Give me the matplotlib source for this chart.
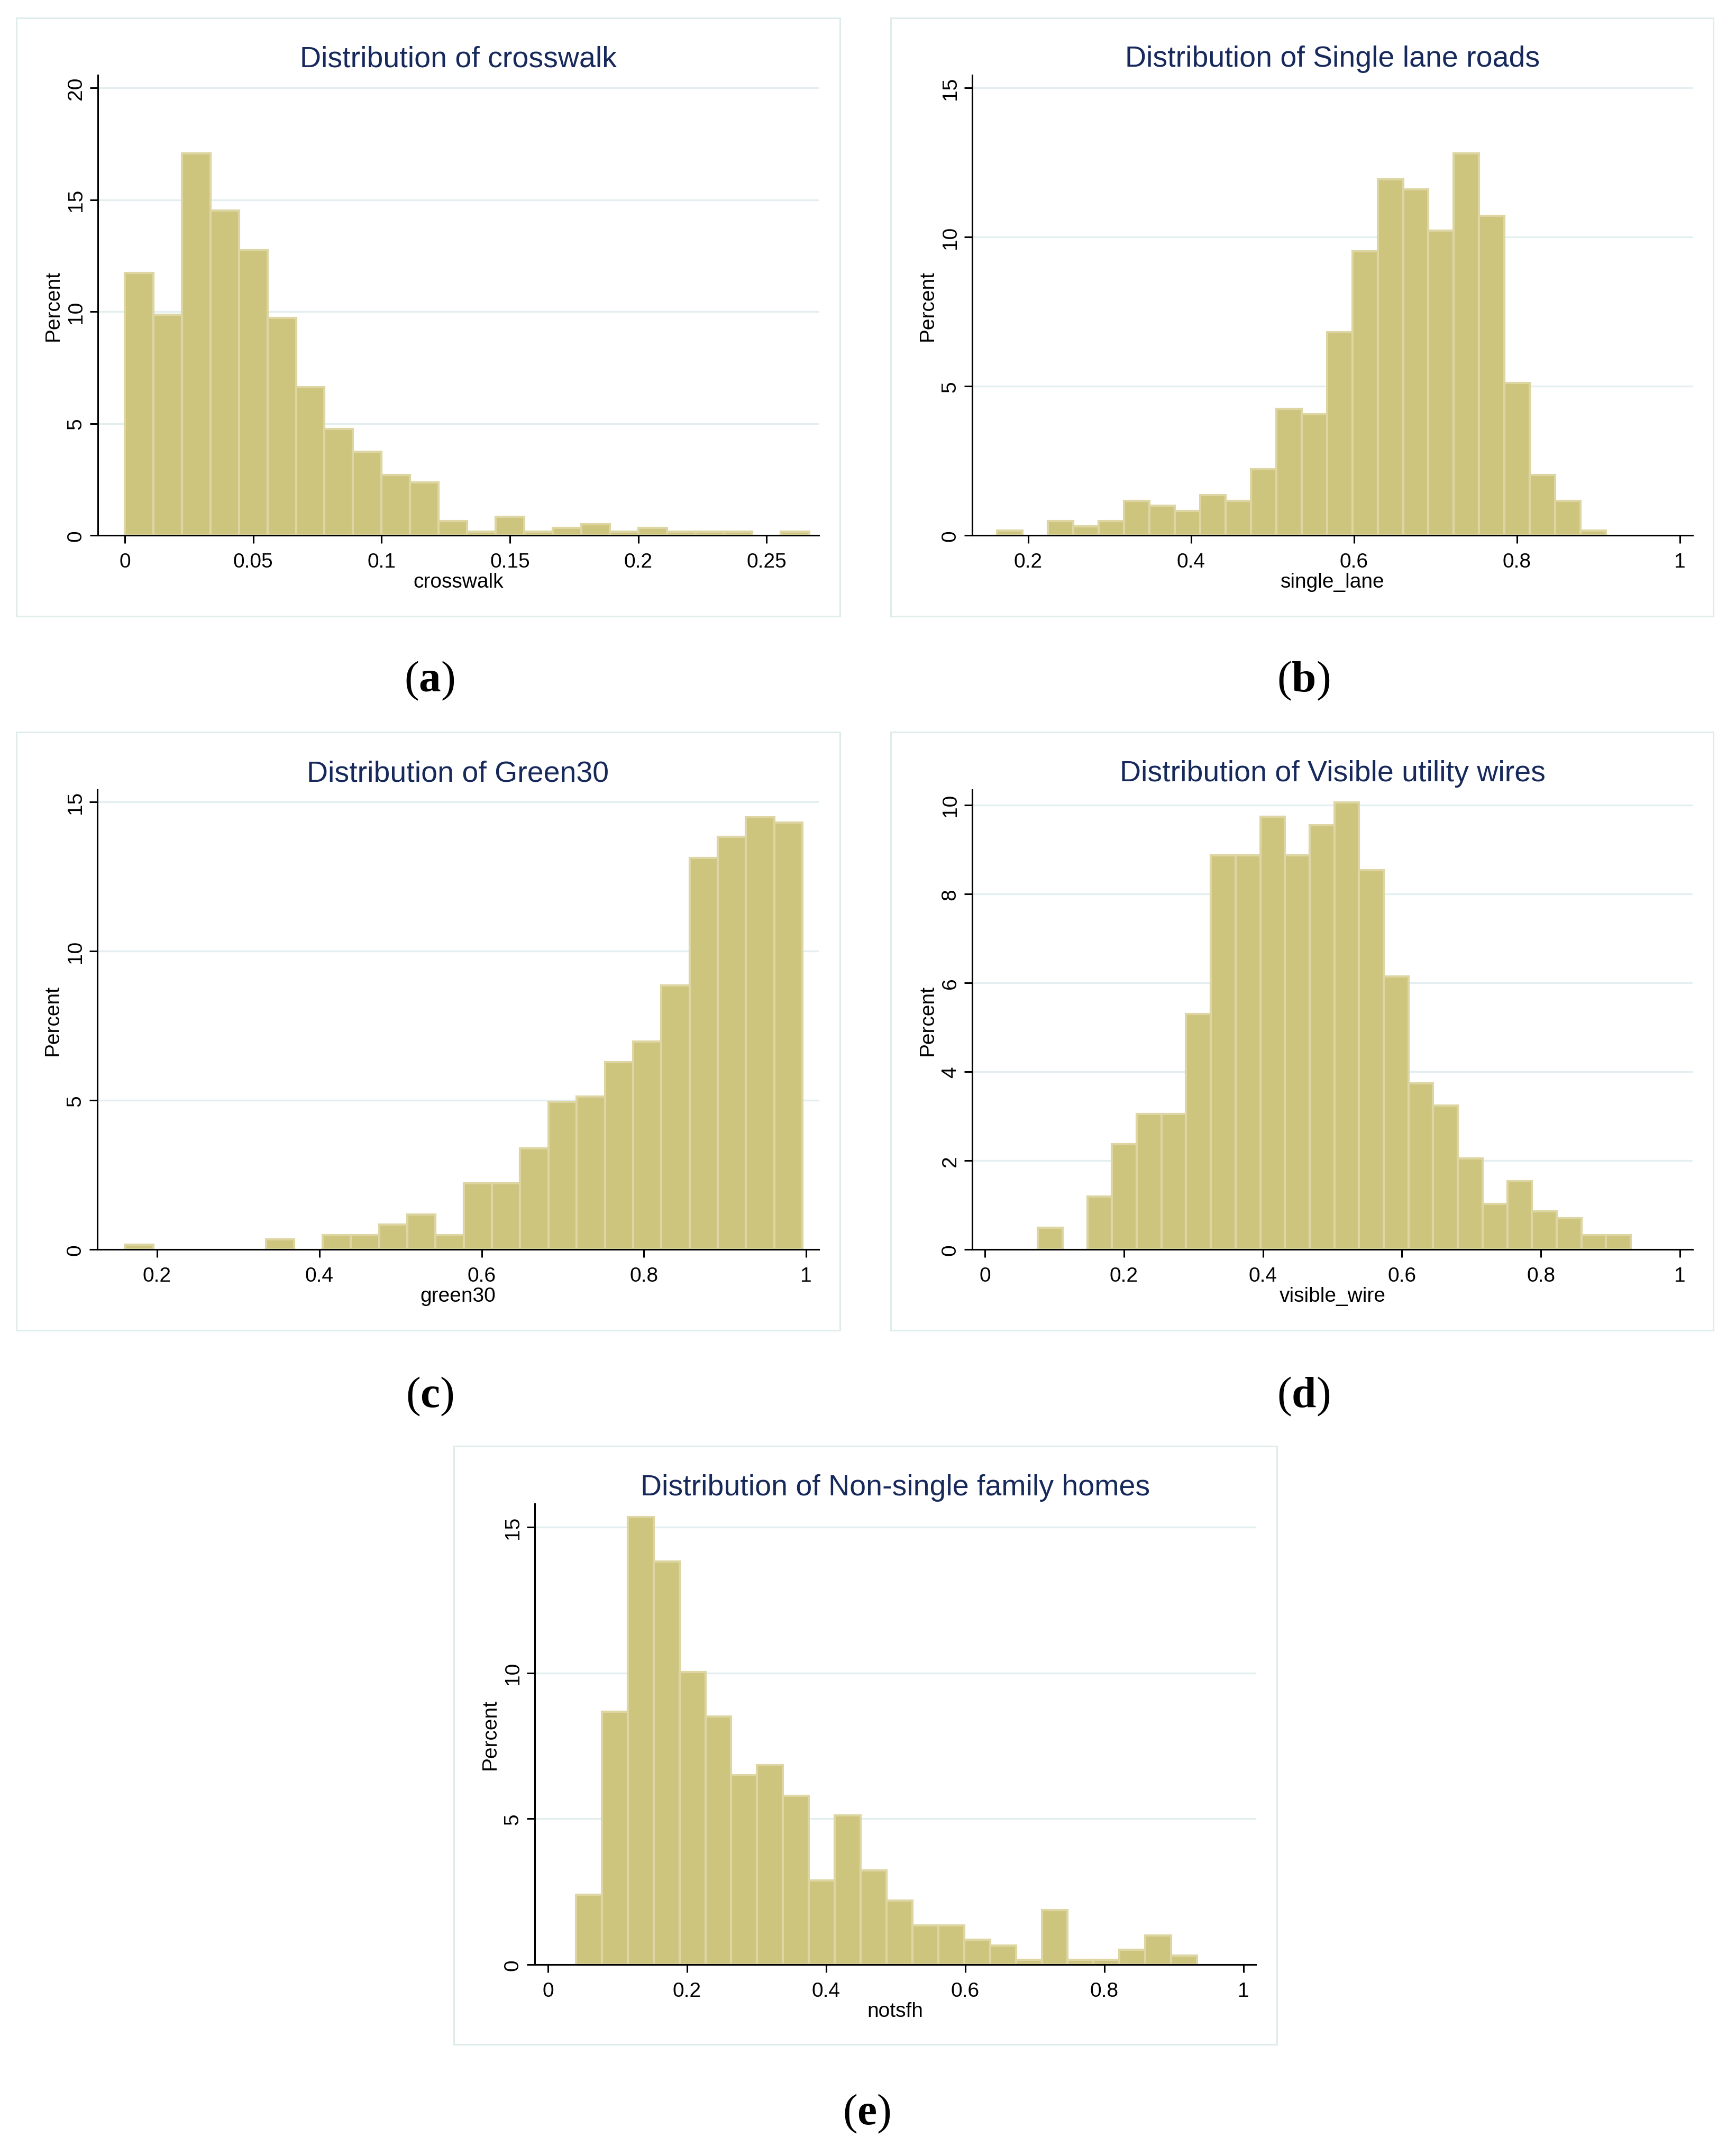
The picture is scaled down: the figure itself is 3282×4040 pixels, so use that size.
import matplotlib
matplotlib.use("Agg")
import matplotlib.pyplot as plt
import numpy as np
from matplotlib.patches import Rectangle

plt.rcParams['font.family'] = ['Liberation Sans', 'DejaVu Sans']
plt.rcParams['mathtext.fontset'] = 'custom'
plt.rcParams['mathtext.rm'] = 'Liberation Serif'
plt.rcParams['mathtext.bf'] = 'Liberation Serif:bold'

# ---------------- data (percent per bin) ----------------
crosswalk_start = 0.0
crosswalk_width = 0.01111
crosswalk_pct = [11.72, 9.87, 17.07, 14.51, 12.75, 9.71, 6.63, 4.76, 3.73, 2.70, 2.37, 0.63,
                 0.16, 0.82, 0.16, 0.33, 0.49, 0.16, 0.33, 0.16, 0.16, 0.16, 0.0, 0.16]

single_lane_start = 0.1617
single_lane_width = 0.03115
single_lane_pct = [0.16, 0.0, 0.48, 0.31, 0.48, 1.15, 1.00, 0.82, 1.35, 1.15, 2.21, 4.24,
                   4.06, 6.81, 9.52, 11.94, 11.60, 10.22, 12.80, 10.72, 5.11, 2.02, 1.15, 0.16]

green30_start = 0.1603
green30_width = 0.0348
green30_pct = [0.16, 0.0, 0.0, 0.0, 0.0, 0.34, 0.0, 0.47, 0.47, 0.83, 1.17, 0.47,
               2.21, 2.21, 3.38, 4.94, 5.12, 6.28, 6.97, 8.85, 13.13, 13.83, 14.49, 14.31]

visible_wire_start = 0.0763
visible_wire_width = 0.03554
visible_wire_pct = [0.49, 0.0, 1.19, 2.37, 3.05, 3.05, 5.29, 8.86, 8.86, 9.73, 8.86, 9.54,
                    10.06, 8.53, 6.14, 3.74, 3.24, 2.05, 1.02, 1.53, 0.86, 0.70, 0.32, 0.32]

notsfh_start = 0.0403
notsfh_width = 0.0372
notsfh_pct = [2.39, 8.67, 15.35, 13.82, 10.04, 8.51, 6.50, 6.83, 5.79, 2.88, 5.11, 3.22,
              2.19, 1.35, 1.35, 0.86, 0.65, 0.16, 1.86, 0.16, 0.16, 0.50, 1.00, 0.31]

titles = ["Distribution of crosswalk", "Distribution of Single lane roads",
          "Distribution of Green30", "Distribution of Visible utility wires",
          "Distribution of Non-single family homes"]
xlabels = ["crosswalk", "single_lane", "green30", "visible_wire", "notsfh"]
panel_letters = ["a", "b", "c", "d", "e"]

xticks_a = [0, 0.05, 0.1, 0.15, 0.2, 0.25]
xticklabels_a = ["0", "0.05", "0.1", "0.15", "0.2", "0.25"]
xticks_bc = [0.2, 0.4, 0.6, 0.8, 1.0]
xticklabels_bc = ["0.2", "0.4", "0.6", "0.8", "1"]
xticks_de = [0, 0.2, 0.4, 0.6, 0.8, 1.0]
xticklabels_de = ["0", "0.2", "0.4", "0.6", "0.8", "1"]
yticks_a = [0, 5, 10, 15, 20]
yticks_bce = [0, 5, 10, 15]
yticks_d = [0, 2, 4, 6, 8, 10]

# ---------------- layout ----------------
W, H, DPI = 3282, 4041, 100
fig = plt.figure(figsize=(W / DPI, H / DPI), dpi=DPI)
fig.patch.set_facecolor('white')

def frac_rect(l, t, r, b):
    return [l / W, 1 - b / H, (r - l) / W, (b - t) / H]

panels = [
    dict(start=crosswalk_start, width=crosswalk_width, pct=crosswalk_pct,
         ax=(185, 143, 1548, 1013), frame=(31, 35, 1588, 1166),
         xlim=(-0.0105, 0.2703), ylim=(0, 20.57), xt=xticks_a, xtl=xticklabels_a, yt=yticks_a,
         lab=(812, 1287)),
    dict(start=single_lane_start, width=single_lane_width, pct=single_lane_pct,
         ax=(1838, 143, 3200, 1013), frame=(1684, 35, 3239, 1166),
         xlim=(0.1312, 1.0156), ylim=(0, 15.43), xt=xticks_bc, xtl=xticklabels_bc, yt=yticks_bce,
         lab=(2464, 1287)),
    dict(start=green30_start, width=green30_width, pct=green30_pct,
         ax=(184, 1494, 1548, 2363), frame=(31, 1385, 1588, 2516),
         xlim=(0.1263, 1.0156), ylim=(0, 15.41), xt=xticks_bc, xtl=xticklabels_bc, yt=yticks_bce,
         lab=(812, 2640)),
    dict(start=visible_wire_start, width=visible_wire_width, pct=visible_wire_pct,
         ax=(1838, 1494, 3200, 2363), frame=(1684, 1385, 3239, 2516),
         xlim=(-0.0183, 1.0183), ylim=(0, 10.34), xt=xticks_de, xtl=xticklabels_de, yt=yticks_d,
         lab=(2464, 2640)),
    dict(start=notsfh_start, width=notsfh_width, pct=notsfh_pct,
         ax=(1011, 2844, 2374, 3715), frame=(858, 2735, 2414, 3866),
         xlim=(-0.019, 1.0175), ylim=(0, 15.8), xt=xticks_de, xtl=xticklabels_de, yt=yticks_bce,
         lab=(1638, 3996)),
]

BAR = '#CDC47E'
BAR_EDGE = '#DDD6A3'
GRID = '#E3EEF0'
FRAME = '#DFECEC'
TITLE = '#16295A'

for i, p in enumerate(panels):
    # panel frame
    l, t, r, b = p['frame']
    fig.patches.append(Rectangle((l / W, 1 - b / H), (r - l) / W, (b - t) / H,
                                 transform=fig.transFigure, fill=False,
                                 edgecolor=FRAME, linewidth=2.2, zorder=0))
    ax = fig.add_axes(frac_rect(*p['ax']))
    pct = np.array(p['pct'])
    edges = p['start'] + p['width'] * np.arange(len(pct))
    mask = pct > 0
    ax.bar(edges[mask], pct[mask], width=p['width'], align='edge',
           color=BAR, edgecolor=BAR_EDGE, linewidth=3.0, zorder=2)
    ax.set_xlim(*p['xlim'])
    ax.set_ylim(*p['ylim'])
    ax.set_xticks(p['xt'])
    ax.set_xticklabels(p['xtl'])
    ax.set_yticks(p['yt'])
    ax.set_yticklabels([str(v) for v in p['yt']])
    for lab in ax.get_yticklabels():
        lab.set_rotation(90)
        lab.set_va('center')
    for s in ('top', 'right'):
        ax.spines[s].set_visible(False)
    for s in ('left', 'bottom'):
        ax.spines[s].set_linewidth(2.2)
        ax.spines[s].set_color('black')
        ax.spines[s].set_zorder(5)
    ax.tick_params(axis='both', length=10.8, width=2.2, labelsize=28, color='black')
    ax.tick_params(axis='x', pad=12)
    ax.tick_params(axis='y', pad=6)
    ax.yaxis.grid(True, color=GRID, linewidth=2.4)
    ax.set_axisbelow(True)
    ax.set_title(titles[i], fontsize=40, color=TITLE, pad=12)
    ax.set_xlabel(xlabels[i], fontsize=28, labelpad=2)
    ax.set_ylabel("Percent", fontsize=28, labelpad=5)
    ax.patch.set_alpha(0)
    # sub-figure letter
    lx, ly = p['lab']
    fig.text(lx / W, 1 - ly / H, r'($\mathbf{' + panel_letters[i] + r'}$)',
             ha='center', va='center', fontsize=60, family='Liberation Serif')

fig.savefig('out.png', dpi=DPI, facecolor='white')
